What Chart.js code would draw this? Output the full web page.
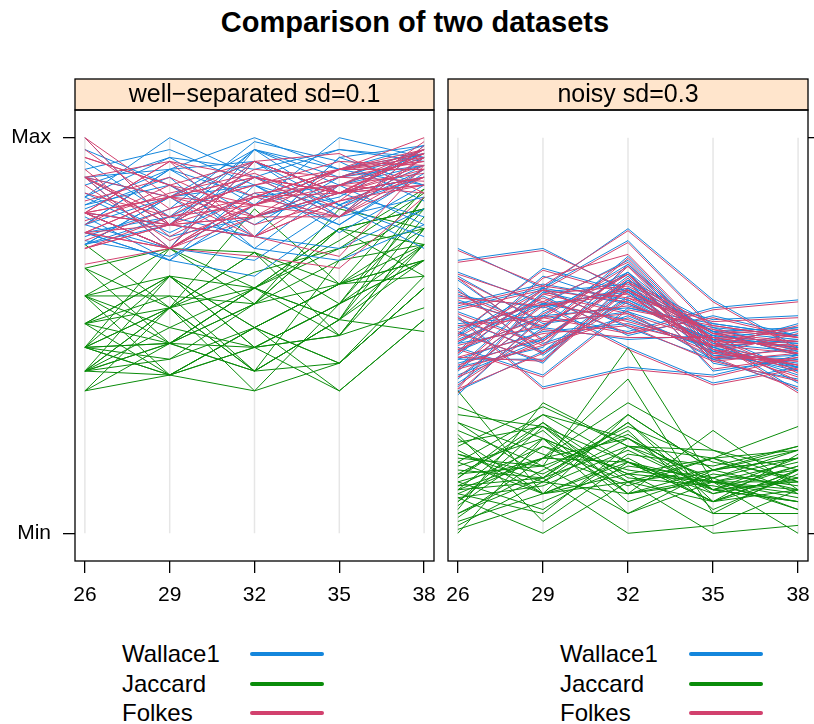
<!DOCTYPE html>
<html>
<head>
<meta charset="utf-8">
<script src="https://cdn.jsdelivr.net/npm/chart.js@4/dist/chart.umd.min.js"></script>
<style>
  body { margin: 0; background: #fff; font-family: "Liberation Sans", Arial, sans-serif; }
  #page { position: relative; width: 814px; height: 724px; overflow: hidden; }
  canvas { position: absolute; top: 0; }
  #title { position: absolute; left: 0; width: 830px; top: 5px; line-height: 34px;
           text-align: center; font-weight: bold; font-size: 29px; color: #000; }
  .key { position: absolute; font-size: 24px; line-height: 30px; color: #000; }
  .swatch { position: absolute; width: 74px; height: 4px; border-radius: 2px; }
</style>
</head>
<body>
<div id="page">
  <div id="title">Comparison of two datasets</div>
  <canvas id="sep" width="460" height="620" style="left:0"></canvas>
  <canvas id="noisy" width="400" height="620" style="left:430px"></canvas>
  <div id="legend"></div>
</div>
<script>
// x positions of the five variables and the Min/Max y ticks
const xTicks = [26, 29, 32, 35, 38];
const yTicks = [0, 1];
const yTickLabels = ['Min', 'Max'];

const seriesNames = ['Wallace1', 'Jaccard', 'Folkes'];
const seriesColors = ['#1486dc', '#0a8c0a', '#d2416e'];

// panel 1: well-separated sd=0.1
const wallaceSep = [
  [1.00, 0.78, 0.94, 0.83, 0.90],
  [0.85, 1.00, 0.90, 0.80, 0.95],
  [0.78, 0.92, 1.00, 0.92, 0.88],
  [0.90, 0.72, 0.83, 1.00, 0.95],
  [0.73, 0.85, 0.97, 0.88, 0.93],
  [0.81, 0.78, 0.75, 0.95, 0.98],
  [0.76, 0.69, 0.65, 0.80, 0.85],
  [0.83, 0.92, 0.94, 0.86, 0.90],
  [0.90, 0.85, 0.72, 0.69, 0.78],
  [0.78, 0.72, 0.97, 0.90, 0.96],
  [0.73, 0.78, 0.90, 0.83, 0.72],
  [0.85, 0.95, 0.83, 0.92, 0.98],
  [0.94, 0.80, 0.75, 0.95, 0.88],
  [0.81, 0.72, 0.94, 0.86, 0.80],
  [0.73, 0.85, 0.88, 0.78, 0.92],
  [0.78, 0.92, 0.80, 0.88, 0.96],
  [0.90, 0.78, 0.97, 0.83, 0.75],
  [0.76, 0.69, 0.83, 0.90, 0.93],
  [0.83, 0.88, 0.75, 0.72, 0.82],
  [0.73, 0.80, 0.90, 0.97, 0.95],
  [0.85, 0.75, 0.80, 0.86, 0.90],
  [0.78, 0.85, 0.94, 0.80, 0.98],
  [0.90, 0.92, 0.85, 0.88, 0.78],
  [0.81, 0.72, 0.69, 0.83, 0.93],
  [0.76, 0.80, 0.97, 0.92, 0.96],
  [0.88, 0.95, 0.92, 0.97, 0.94],
  [0.80, 0.69, 0.88, 0.76, 0.88],
  [0.97, 0.88, 0.78, 0.90, 0.97],
  [0.75, 0.82, 0.99, 0.94, 0.84],
  [0.86, 0.76, 0.86, 0.78, 0.91],
  [0.82, 0.90, 0.72, 0.88, 0.95],
  [0.92, 0.97, 0.88, 0.82, 0.92],
  [0.74, 0.70, 0.80, 0.85, 0.97]
];
const jaccardSep = [
  [0.47, 0.65, 0.52, 0.63, 0.87],
  [0.41, 0.48, 0.62, 0.77, 0.82],
  [0.60, 0.48, 0.41, 0.54, 0.73],
  [0.47, 0.40, 0.36, 0.43, 0.62],
  [0.41, 0.57, 0.71, 0.58, 0.69],
  [0.36, 0.48, 0.58, 0.82, 0.77],
  [0.53, 0.65, 0.47, 0.36, 0.54],
  [0.67, 0.57, 0.82, 0.63, 0.65],
  [0.47, 0.48, 0.47, 0.50, 0.77],
  [0.60, 0.72, 0.62, 0.54, 0.51],
  [0.41, 0.40, 0.52, 0.63, 0.73],
  [0.73, 0.57, 0.36, 0.58, 0.82],
  [0.47, 0.57, 0.41, 0.54, 0.69],
  [0.53, 0.48, 0.62, 0.74, 0.87],
  [0.60, 0.65, 0.52, 0.43, 0.62],
  [0.41, 0.48, 0.58, 0.63, 0.77],
  [0.47, 0.72, 0.71, 0.50, 0.57],
  [0.36, 0.40, 0.47, 0.58, 0.73],
  [0.67, 0.48, 0.62, 0.77, 0.65],
  [0.41, 0.57, 0.41, 0.54, 0.85],
  [0.60, 0.60, 0.58, 0.69, 0.82],
  [0.47, 0.40, 0.52, 0.36, 0.54],
  [0.53, 0.57, 0.71, 0.63, 0.69],
  [0.41, 0.65, 0.47, 0.50, 0.77],
  [0.47, 0.48, 0.41, 0.69, 0.73],
  [0.60, 0.52, 0.62, 0.54, 0.80],
  [0.41, 0.44, 0.52, 0.43, 0.62],
  [0.47, 0.57, 0.66, 0.72, 0.86],
  [0.53, 0.40, 0.47, 0.58, 0.69],
  [0.67, 0.72, 0.58, 0.77, 0.73],
  [0.53, 0.65, 0.62, 0.72, 0.77],
  [0.41, 0.52, 0.47, 0.58, 0.85],
  [0.60, 0.40, 0.52, 0.63, 0.69],
  [0.36, 0.57, 0.62, 0.50, 0.73],
  [0.47, 0.44, 0.58, 0.77, 0.82],
  [0.53, 0.60, 0.41, 0.43, 0.65]
];
const folkesSep = [
  [1.00, 0.78, 0.90, 0.86, 0.92],
  [0.90, 0.72, 0.83, 0.92, 0.97],
  [0.81, 0.94, 0.85, 0.80, 0.95],
  [0.90, 0.78, 0.94, 0.86, 0.88],
  [0.76, 0.72, 0.80, 0.92, 1.00],
  [0.81, 0.85, 0.90, 0.86, 0.93],
  [0.72, 0.78, 0.75, 0.88, 0.95],
  [0.95, 0.88, 0.83, 0.80, 0.90],
  [0.81, 0.72, 0.94, 0.96, 0.86],
  [0.90, 0.85, 0.80, 0.86, 0.96],
  [0.76, 0.78, 0.85, 0.92, 0.92],
  [0.81, 0.94, 0.75, 0.84, 0.88],
  [1.00, 0.85, 0.83, 0.90, 0.97],
  [0.72, 0.78, 0.90, 0.86, 0.90],
  [0.81, 0.72, 0.70, 0.67, 0.85],
  [0.90, 0.80, 0.85, 0.92, 0.94],
  [0.76, 0.85, 0.94, 0.86, 0.96],
  [0.81, 0.78, 0.80, 0.80, 0.92],
  [0.68, 0.72, 0.83, 0.88, 0.97],
  [0.90, 0.94, 0.90, 0.86, 0.88],
  [0.81, 0.78, 0.75, 0.70, 0.93],
  [0.76, 0.72, 0.85, 0.92, 0.95],
  [0.95, 0.88, 0.94, 0.86, 0.90],
  [0.81, 0.85, 0.90, 0.80, 0.98],
  [0.90, 0.78, 0.80, 0.88, 0.86],
  [0.72, 0.80, 0.83, 0.92, 0.92],
  [0.81, 0.72, 0.85, 0.86, 0.96],
  [0.76, 0.85, 0.75, 0.84, 0.90],
  [0.86, 0.80, 0.92, 0.90, 0.94],
  [0.78, 0.88, 0.78, 0.84, 0.99],
  [0.92, 0.75, 0.86, 0.88, 0.91],
  [0.74, 0.82, 0.88, 0.94, 0.93],
  [0.84, 0.90, 0.80, 0.86, 0.97],
  [0.88, 0.74, 0.83, 0.90, 0.89],
  [0.79, 0.86, 0.91, 0.82, 0.95],
  [0.97, 0.82, 0.88, 0.92, 0.96]
];

// panel 2: noisy sd=0.3
const wallaceNoisy = [
  [0.72, 0.62, 0.77, 0.59, 0.47],
  [0.69, 0.72, 0.61, 0.51, 0.45],
  [0.66, 0.58, 0.69, 0.47, 0.42],
  [0.64, 0.49, 0.64, 0.53, 0.50],
  [0.59, 0.52, 0.66, 0.44, 0.37],
  [0.57, 0.62, 0.58, 0.49, 0.52],
  [0.54, 0.46, 0.62, 0.51, 0.45],
  [0.52, 0.58, 0.54, 0.47, 0.49],
  [0.50, 0.67, 0.61, 0.45, 0.42],
  [0.48, 0.52, 0.66, 0.49, 0.47],
  [0.47, 0.40, 0.57, 0.53, 0.50],
  [0.45, 0.62, 0.52, 0.44, 0.45],
  [0.43, 0.49, 0.64, 0.51, 0.52],
  [0.41, 0.58, 0.61, 0.47, 0.40],
  [0.38, 0.52, 0.49, 0.50, 0.47],
  [0.36, 0.46, 0.59, 0.48, 0.42],
  [0.55, 0.37, 0.42, 0.40, 0.45],
  [0.50, 0.62, 0.74, 0.52, 0.50],
  [0.46, 0.55, 0.68, 0.46, 0.43],
  [0.42, 0.61, 0.56, 0.49, 0.48],
  [0.40, 0.49, 0.65, 0.45, 0.44],
  [0.53, 0.55, 0.51, 0.57, 0.59],
  [0.44, 0.44, 0.62, 0.50, 0.41],
  [0.61, 0.52, 0.70, 0.48, 0.46],
  [0.49, 0.58, 0.47, 0.38, 0.42],
  [0.37, 0.61, 0.63, 0.51, 0.49],
  [0.56, 0.48, 0.55, 0.46, 0.51],
  [0.46, 0.65, 0.58, 0.49, 0.36],
  [0.62, 0.45, 0.60, 0.54, 0.55],
  [0.39, 0.56, 0.66, 0.43, 0.39],
  [0.58, 0.63, 0.59, 0.50, 0.48],
  [0.44, 0.51, 0.53, 0.47, 0.53],
  [0.51, 0.43, 0.64, 0.41, 0.44],
  [0.35, 0.55, 0.57, 0.52, 0.46],
  [0.60, 0.57, 0.62, 0.46, 0.41],
  [0.48, 0.60, 0.50, 0.55, 0.50],
  [0.42, 0.47, 0.68, 0.49, 0.38],
  [0.65, 0.53, 0.56, 0.44, 0.47]
];
const jaccardNoisy = [
  [0.36, 0.10, 0.18, 0.13, 0.16],
  [0.30, 0.27, 0.13, 0.08, 0.11],
  [0.28, 0.14, 0.30, 0.16, 0.19],
  [0.22, 0.32, 0.22, 0.11, 0.08],
  [0.19, 0.17, 0.47, 0.13, 0.13],
  [0.17, 0.24, 0.15, 0.19, 0.21],
  [0.14, 0.28, 0.10, 0.16, 0.11],
  [0.11, 0.13, 0.28, 0.08, 0.16],
  [0.10, 0.19, 0.24, 0.13, 0.06],
  [0.08, 0.27, 0.18, 0.11, 0.19],
  [0.05, 0.14, 0.22, 0.21, 0.13],
  [0.03, 0.10, 0.13, 0.16, 0.22],
  [0.00, 0.24, 0.05, 0.13, 0.10],
  [0.25, 0.03, 0.18, 0.10, 0.14],
  [0.13, 0.19, 0.39, 0.05, 0.16],
  [0.20, 0.13, 0.10, 0.26, 0.11],
  [0.06, 0.33, 0.22, 0.14, 0.19],
  [0.15, 0.17, 0.25, 0.11, 0.08],
  [0.09, 0.00, 0.13, 0.19, 0.13],
  [0.32, 0.24, 0.15, 0.13, 0.18],
  [0.12, 0.14, 0.00, 0.02, 0.11],
  [0.18, 0.10, 0.30, 0.16, 0.21],
  [0.04, 0.19, 0.18, 0.08, 0.16],
  [0.23, 0.27, 0.10, 0.14, 0.06],
  [0.10, 0.05, 0.22, 0.19, 0.27],
  [0.16, 0.14, 0.28, 0.11, 0.13],
  [0.07, 0.22, 0.13, 0.00, 0.02],
  [0.26, 0.17, 0.05, 0.16, 0.19],
  [0.02, 0.13, 0.24, 0.13, 0.11],
  [0.14, 0.30, 0.18, 0.08, 0.14],
  [0.21, 0.10, 0.15, 0.05, 0.05],
  [0.11, 0.19, 0.33, 0.21, 0.16],
  [0.08, 0.24, 0.10, 0.13, 0.00],
  [0.13, 0.06, 0.20, 0.17, 0.22],
  [0.18, 0.30, 0.24, 0.10, 0.17],
  [0.12, 0.22, 0.16, 0.13, 0.09],
  [0.05, 0.16, 0.27, 0.18, 0.14],
  [0.24, 0.10, 0.19, 0.08, 0.20],
  [0.15, 0.26, 0.08, 0.15, 0.12],
  [0.09, 0.12, 0.21, 0.11, 0.17],
  [0.28, 0.20, 0.12, 0.19, 0.10],
  [0.01, 0.08, 0.17, 0.14, 0.21],
  [0.20, 0.15, 0.26, 0.06, 0.15],
  [0.11, 0.28, 0.14, 0.12, 0.08]
];
const folkesNoisy = [
  [0.715, 0.625, 0.765, 0.585, 0.465],
  [0.685, 0.715, 0.615, 0.505, 0.455],
  [0.655, 0.585, 0.685, 0.465, 0.425],
  [0.645, 0.485, 0.635, 0.525, 0.495],
  [0.585, 0.525, 0.655, 0.445, 0.365],
  [0.565, 0.615, 0.585, 0.485, 0.515],
  [0.545, 0.455, 0.615, 0.505, 0.455],
  [0.515, 0.585, 0.535, 0.475, 0.485],
  [0.505, 0.665, 0.605, 0.455, 0.425],
  [0.475, 0.525, 0.655, 0.485, 0.475],
  [0.465, 0.395, 0.565, 0.525, 0.495],
  [0.455, 0.615, 0.525, 0.435, 0.455],
  [0.425, 0.495, 0.635, 0.505, 0.515],
  [0.415, 0.575, 0.605, 0.465, 0.395],
  [0.375, 0.515, 0.495, 0.495, 0.465],
  [0.365, 0.455, 0.585, 0.475, 0.425],
  [0.545, 0.365, 0.415, 0.395, 0.445],
  [0.495, 0.615, 0.735, 0.515, 0.495],
  [0.465, 0.545, 0.675, 0.455, 0.435],
  [0.415, 0.605, 0.555, 0.485, 0.475],
  [0.395, 0.485, 0.645, 0.445, 0.435],
  [0.525, 0.545, 0.505, 0.565, 0.585],
  [0.445, 0.435, 0.615, 0.495, 0.405],
  [0.605, 0.515, 0.695, 0.475, 0.455],
  [0.485, 0.575, 0.465, 0.375, 0.415],
  [0.365, 0.605, 0.625, 0.505, 0.485],
  [0.555, 0.475, 0.545, 0.455, 0.505],
  [0.455, 0.645, 0.705, 0.485, 0.355],
  [0.615, 0.455, 0.595, 0.535, 0.545],
  [0.395, 0.555, 0.655, 0.435, 0.385],
  [0.575, 0.625, 0.595, 0.495, 0.485],
  [0.445, 0.505, 0.525, 0.475, 0.525],
  [0.505, 0.435, 0.635, 0.415, 0.445],
  [0.355, 0.545, 0.575, 0.515, 0.465],
  [0.595, 0.575, 0.615, 0.465, 0.415],
  [0.485, 0.595, 0.505, 0.545, 0.495],
  [0.415, 0.475, 0.675, 0.485, 0.385],
  [0.645, 0.535, 0.555, 0.445, 0.465]
];

// lattice-style strip above the panel plus a box round the plot region
const panelFrame = {
  id: 'panelFrame',
  afterDraw(chart, args, opts) {
    const { ctx, chartArea: a } = chart;
    ctx.save();
    ctx.fillStyle = '#ffe5cc';
    ctx.fillRect(a.left, a.top - 31, a.right - a.left, 31);
    ctx.lineWidth = 1.3;
    ctx.strokeStyle = '#000';
    ctx.strokeRect(a.left, a.top - 31, a.right - a.left, 31);
    ctx.strokeRect(a.left, a.top, a.right - a.left, a.bottom - a.top);
    ctx.fillStyle = '#000';
    ctx.font = '25px "Liberation Sans", Arial, sans-serif';
    ctx.textAlign = 'center';
    ctx.textBaseline = 'middle';
    ctx.fillText(opts.label, (a.left + a.right) / 2, a.top - 15);
    ctx.restore();
  }
};

function toPoints(row) {
  return row.map((v, i) => ({ x: xTicks[i], y: v }));
}

function makePanel(id, label, groups, side, pad) {
  const datasets = [];
  // light reference lines at each variable
  xTicks.forEach(x => {
    datasets.push({
      data: yTicks.map(y => ({ x: x, y: y })),
      borderColor: '#e6e6e6', borderWidth: 1.5, order: 10
    });
  });
  // green first (behind), then blue, pink on top
  const drawOrder = [[1, 3], [0, 2], [2, 1]];
  drawOrder.forEach(([g, ord]) => {
    groups[g].forEach(row => {
      datasets.push({
        data: toPoints(row),
        borderColor: seriesColors[g], borderWidth: 1, order: ord
      });
    });
  });

  const left = side === 'left';
  const tickFont = { size: 21, family: '"Liberation Sans", Arial, sans-serif' };
  return new Chart(document.getElementById(id), {
    type: 'line',
    data: { datasets },
    plugins: [panelFrame],
    options: {
      responsive: false,
      animation: false,
      events: [],
      devicePixelRatio: 1,
      elements: { point: { radius: 0 }, line: { tension: 0 } },
      layout: { padding: pad },
      plugins: { legend: { display: false }, tooltip: { enabled: false }, panelFrame: { label } },
      scales: {
        x: {
          type: 'linear', min: 25.65, max: 38.35,
          afterBuildTicks: s => { s.ticks = xTicks.map(v => ({ value: v })); },
          afterFit: s => { s.height = 59; },
          ticks: { autoSkip: false, maxRotation: 0, padding: 10, color: '#000', font: tickFont },
          grid: { drawOnChartArea: false, drawTicks: true, tickLength: 12, color: '#000', lineWidth: 1.3 },
          border: { display: false }
        },
        y: {
          type: 'linear', position: side, min: -0.07, max: 1.07,
          afterBuildTicks: s => { s.ticks = yTicks.map(v => ({ value: v })); },
          afterFit: s => { s.width = left ? 75 : 6; },
          ticks: { autoSkip: false, padding: 12, color: '#000', font: tickFont,
                   callback: v => left ? yTickLabels[yTicks.indexOf(v)] : '' },
          grid: { drawOnChartArea: false, drawTicks: true, tickLength: 12, color: '#000', lineWidth: 1.3 },
          border: { display: false }
        }
      }
    }
  });
}

// left canvas spans 0..460, right canvas 430..830 (page clips at 814)
makePanel('sep', 'well\u2212separated sd=0.1', [wallaceSep, jaccardSep, folkesSep], 'left',
          { left: 0, right: 26, top: 110, bottom: 0 });
makePanel('noisy', 'noisy sd=0.3', [wallaceNoisy, jaccardNoisy, folkesNoisy], 'right',
          { left: 18, right: 16, top: 110, bottom: 0 });

// key below each panel
const legend = document.getElementById('legend');
[[122, 250], [560, 689]].forEach(([tx, lx]) => {
  seriesNames.forEach((name, i) => {
    const cy = 654 + i * 29.5;
    const t = document.createElement('div');
    t.className = 'key';
    t.textContent = name;
    t.style.left = tx + 'px';
    t.style.top = (cy - 14.7) + 'px';
    legend.appendChild(t);
    const s = document.createElement('div');
    s.className = 'swatch';
    s.style.background = seriesColors[i];
    s.style.left = lx + 'px';
    s.style.top = (cy - 2) + 'px';
    legend.appendChild(s);
  });
});
</script>
</body>
</html>
